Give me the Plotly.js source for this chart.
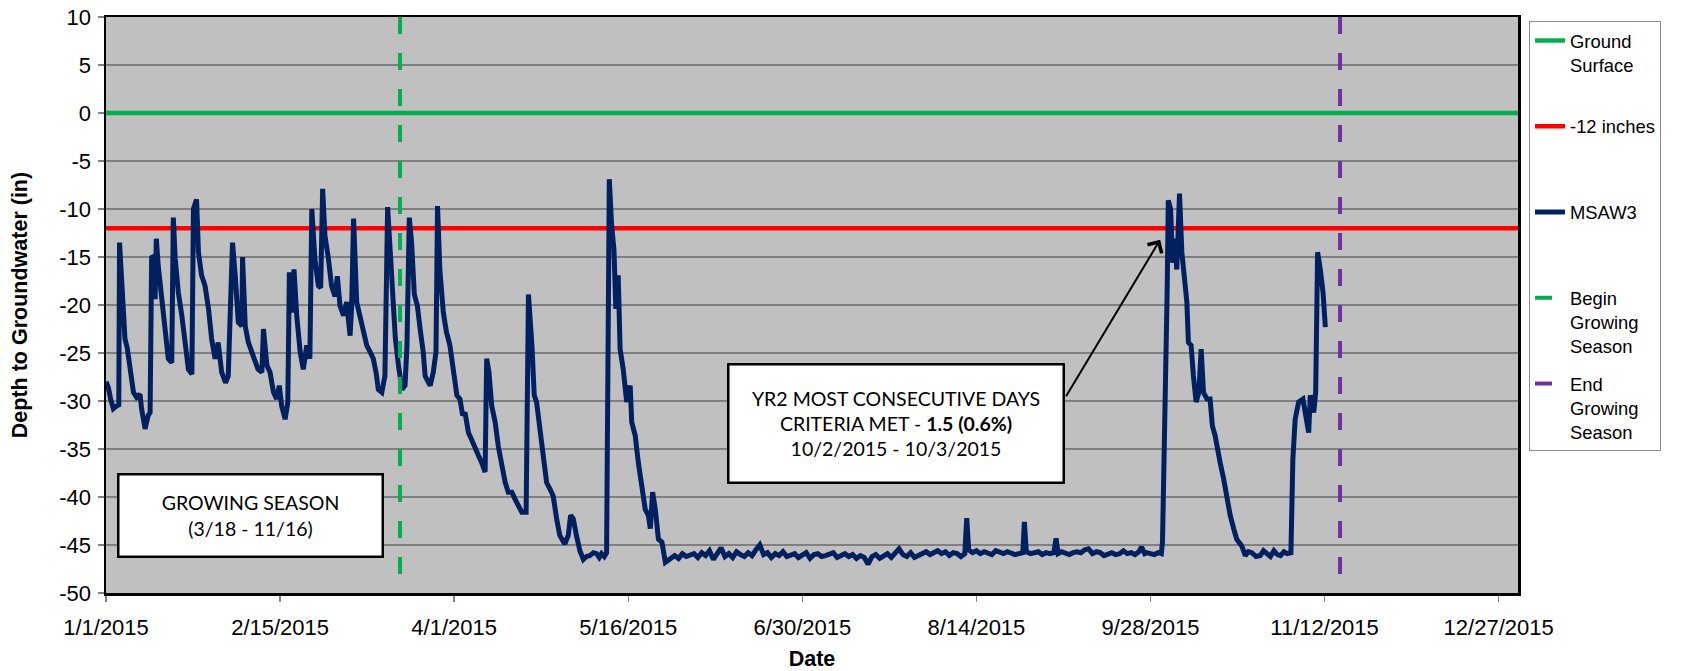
<!DOCTYPE html>
<html>
<head>
<meta charset="utf-8">
<script src="https://cdn.plot.ly/plotly-3.0.1.min.js"></script>
<style>
  html, body { margin: 0; padding: 0; background: #ffffff; }
  #chart { width: 1698px; height: 671px; }
</style>
</head>
<body>
<div id="chart"></div>
<script>
// ---------------- DATA ----------------
// Days elapsed since 1/1/2015 for the MSAW3 well record
const msawDays = [
  0, 0.6, 1.2, 1.9, 2.8, 3.3, 3.5, 4.0, 4.9, 5.5, 6.2, 7.1, 7.9, 8.8, 9.2, 10.1, 10.9, 11.4,
  11.8, 12.2, 12.7, 13.0, 13.5, 14.4, 15.3, 16.1, 17.0, 17.4, 17.9, 18.7, 19.6, 20.4, 21.3, 22.2,
  22.6, 23.4, 23.9, 24.7, 25.6, 26.5, 27.3, 28.2, 29.0, 29.9, 30.9, 31.6, 32.7, 33.4, 34.2, 35.1,
  35.3, 36.0, 36.8, 37.7, 38.5, 39.3, 40.3, 40.7, 41.6, 42.4, 43.3, 44.1, 44.8, 45.4, 46.3, 47.0,
  47.4, 48.0, 48.6, 49.3, 50.2, 51.0, 51.9, 52.7, 53.2, 54.0, 54.9, 55.5, 56.0, 56.6, 57.5, 58.3,
  59.2, 59.8, 60.5, 61.4, 62.2, 63.1, 63.5, 64.0, 64.8, 65.7, 66.5, 67.4, 68.3, 69.1, 69.8, 70.4,
  71.3, 72.1, 72.8, 73.5, 74.1, 74.8, 75.6, 76.5, 77.3, 77.8, 78.4, 79.0, 79.7, 80.5, 81.2, 82.0,
  82.5, 83.8, 84.6, 85.3, 85.7, 86.3, 87.2, 88.0, 88.9, 89.8, 90.7, 91.5, 92.2, 92.8, 93.7, 94.5,
  95.4, 96.3, 97.1, 98.0, 98.4, 99.0, 99.7, 100.6, 101.4, 102.3, 103.2, 104.0, 104.9, 105.7, 106.6,
  107.5, 108.6, 109.2, 110.1, 110.7, 111.3, 112.2, 113.1, 113.9, 114.8, 115.6, 116.5, 117.3, 118.6,
  119.5, 120.1, 120.8, 121.6, 122.5, 123.4, 124.2, 125.1, 126.0, 126.8, 127.5, 128.1, 128.8, 129.4,
  129.9, 130.1, 130.7, 131.3, 131.8, 132.4, 132.9, 133.7, 134.6, 135.5, 135.9, 136.8, 137.6, 138.5,
  139.4, 140.2, 140.7, 141.3, 142.0, 142.8, 143.7, 144.6, 145.9,
  147, 148, 149, 150, 151, 152, 153, 154, 155, 156, 157, 158, 159, 160, 161, 162, 163, 164, 165,
  166, 167, 168, 169, 170, 171, 172, 173, 174, 175, 176, 177, 178, 179, 180, 181, 182, 183, 184,
  185, 186, 187, 188, 189, 190, 191, 192, 193, 194, 195, 196, 197, 198, 199, 200, 201, 202, 203,
  204, 205, 206, 207, 208, 209, 210, 211, 212, 213, 214, 215, 216, 217, 218, 219, 220, 221, 222,
  222.5, 223.0, 224, 225, 226, 227, 228, 229, 230, 231, 232, 233, 234, 235, 236, 237, 237.4, 237.9,
  239, 240, 241, 242, 243, 244, 245, 245.6, 246.1, 247, 248, 249, 250, 251, 252, 253, 254, 255,
  256, 257, 258, 259, 260, 261, 262, 263, 264, 265, 266, 267, 267.7, 268.5, 269, 270, 271, 272,
  272.8, 273.1, 273.7, 274.3, 274.6, 275.2, 275.7, 276.2, 276.8, 277.5, 278.1, 278.9, 279.4, 279.8,
  280.5, 281.1, 281.8, 282.5, 283.1, 283.7, 284.6, 285.4, 286.0, 286.7, 287.2, 288.0, 288.9, 289.8,
  290.6, 291.5, 292.3, 293.6, 294.5, 295.3, 296.2, 297.3, 298.4, 299.2, 300.1, 301.0, 301.9, 302.8,
  303.6, 304.5, 305.3, 306.3, 306.8, 307.4, 308.3, 309.4, 310.3, 310.9, 311.3, 312.2, 312.7, 313.2,
  313.9, 314.6, 315.2
];
// Depth to groundwater (in)
const msawDepth = [
  -28.0, -28.6, -29.8, -30.8, -30.5, -30.4, -13.5, -17.6, -23.5, -24.5, -26.3, -29.1, -29.6, -29.3, -30.8, -32.9, -31.5, -31.2,
  -14.9, -15.0, -19.4, -13.1, -15.9, -19.4, -22.2, -25.6, -26.0, -10.9, -15.2, -18.7, -21.1, -24.2, -26.7, -27.2,
  -10.0, -9.0, -14.5, -16.9, -18.0, -20.4, -23.5, -25.6, -23.9, -27.0, -28.1, -27.4, -13.5, -16.9, -21.8, -22.2,
  -15.0, -22.2, -23.9, -24.9, -26.0, -26.7, -27.0, -22.5, -26.3, -27.0, -29.1, -29.8, -28.4, -30.5, -31.9, -30.1,
  -16.6, -20.8, -16.3, -21.1, -24.9, -26.7, -24.2, -25.6, -10.0, -15.2, -18.0, -18.2, -7.9, -12.8, -15.2, -18.0,
  -19.1, -17.0, -20.1, -21.1, -19.7, -23.2, -20.1, -11.0, -19.7, -21.1, -22.8, -24.2, -24.9, -25.6, -27.0, -28.8,
  -29.1, -27.4, -9.8, -15.2, -19.4, -23.5, -26.3, -28.8, -28.4, -24.2, -10.9, -13.5, -18.9, -20.1, -22.5, -24.9,
  -27.4, -28.4, -27.0, -24.9, -9.7, -16.3, -20.8, -22.8, -24.2, -26.7, -29.4, -29.8, -31.5, -31.2, -33.3, -34.0,
  -35.0, -35.7, -36.4, -37.4, -25.6, -27.0, -30.5, -32.2, -34.7, -36.7, -38.5, -39.5, -39.5, -40.2, -40.9,
  -41.6, -41.6, -18.9, -24.2, -29.4, -30.1, -33.3, -36.0, -38.5, -39.2, -39.9, -42.3, -44.0, -44.9,
  -44.0, -41.9, -42.3, -44.0, -45.6, -46.5, -46.2, -46.1, -45.8, -45.9, -46.3, -45.9, -46.2, -45.8,
  -25.6, -6.9, -11.7, -14.2, -20.4, -16.9, -24.6, -26.7, -30.1, -28.4, -32.2, -33.6, -36.4, -38.8,
  -41.3, -41.9, -43.3, -39.5, -41.3, -44.4, -44.7, -46.8, -46.5,
  -46.1, -46.4, -45.9, -46.2, -46.0, -45.9, -46.3, -45.8, -46.1, -45.6, -46.5, -45.9, -45.3, -46.2, -45.9, -46.3, -45.7, -46.0, -46.2,
  -45.8, -46.1, -45.5, -45.0, -46.0, -45.8, -46.3, -45.9, -46.1, -45.7, -46.2, -46.0, -45.9, -46.3, -46.1, -45.8, -46.4, -46.0, -45.9,
  -46.2, -46.1, -46.0, -45.8, -46.3, -46.1, -45.9, -46.2, -46.0, -46.4, -46.1, -46.3, -47.0, -46.2, -46.0, -46.4, -46.1, -45.9, -46.3,
  -45.8, -45.4, -46.0, -46.2, -45.8, -46.3, -46.1, -45.9, -45.7, -46.0, -45.8, -45.6, -45.9, -45.7, -46.1, -45.8, -45.9, -46.2, -45.9,
  -42.2, -45.5, -45.8, -45.6, -45.9, -45.7, -45.8, -46.0, -45.6, -45.8, -45.9, -45.7, -45.8, -46.0, -45.9, -45.8, -42.6, -45.7,
  -45.9, -45.8, -45.7, -46.0, -45.8, -45.9, -45.8, -44.3, -45.9, -45.7, -45.9, -46.0, -45.8, -45.7, -45.8, -45.5, -45.4, -45.9,
  -45.7, -45.8, -46.1, -45.9, -45.8, -46.0, -45.9, -45.6, -45.9, -45.8, -46.0, -45.7, -45.2, -45.9, -45.8, -45.9, -46.0, -45.8,
  -45.9, -44.7, -34.3, -18.7, -9.1, -10.0, -15.6, -13.1, -16.3, -8.4, -14.5, -18.0, -19.7, -23.9,
  -24.2, -27.4, -30.1, -29.1, -24.6, -29.1, -29.8, -29.8, -32.6, -33.6, -35.0, -36.4, -38.1, -40.2,
  -41.9, -43.3, -44.4, -45.1, -46.1, -45.7, -45.8, -46.2, -46.1, -45.6, -45.9, -46.2, -45.6, -46.0,
  -46.1, -45.7, -45.9, -45.8, -36.1, -31.9, -30.1, -29.8, -31.9, -33.3, -29.4, -31.2, -29.1, -14.5,
  -16.3, -18.7, -22.3
];

// Reference lines
const seriesNames = ['Ground<br>Surface', '-12 inches', 'MSAW3', 'Begin<br>Growing<br>Season', 'End<br>Growing<br>Season'];
const groundSurfaceDepth = [0, 0];
const criteriaDepth = [-12, -12];
const refLineDates = ['2015-01-01', '2016-01-01'];
const growingSeasonBegin = ['2015-03-18', '2015-03-18'];
const growingSeasonEnd = ['2015-11-16', '2015-11-16'];
const seasonDepthSpan = [10, -50];

// Y axis tick labels (plain hyphen minus, as in the original)
const yTickVals = [10, 5, 0, -5, -10, -15, -20, -25, -30, -35, -40, -45, -50];
const yTickText = ['10', '5', '0', '-5', '-10', '-15', '-20', '-25', '-30', '-35', '-40', '-45', '-50'];

// ---------------- BUILD ----------------
const dayMs = 86400000;
const origin = Date.UTC(2015, 0, 1);
const msawDates = msawDays.map(d => new Date(origin + d * dayMs).toISOString().replace('T', ' ').slice(0, 19));

const padLines = (name) => {
  const n = name.split('<br>').length;
  let s = name;
  for (let i = n; i < 3; i++) s += '<br>\u00a0';
  return s;
};

const traces = [
  { x: refLineDates, y: groundSurfaceDepth, name: padLines(seriesNames[0]), mode: 'lines',
    line: { color: '#00B050', width: 4.5 }, legendgroup: 'g1' },
  { x: refLineDates, y: criteriaDepth, name: padLines(seriesNames[1]), mode: 'lines',
    line: { color: '#FF0000', width: 4.5 }, legendgroup: 'g2' },
  { x: msawDates, y: msawDepth, name: padLines(seriesNames[2]), mode: 'lines',
    line: { color: '#002060', width: 5 }, legendgroup: 'g3' },
  { x: growingSeasonBegin, y: seasonDepthSpan, name: padLines(seriesNames[3]), mode: 'lines',
    line: { color: '#00B050', width: 4, dash: '17px,19px' }, legendgroup: 'g4' },
  { x: growingSeasonEnd, y: seasonDepthSpan, name: padLines(seriesNames[4]), mode: 'lines',
    line: { color: '#7030A0', width: 4, dash: '17px,19px' }, legendgroup: 'g5' }
];

const axisFont = { family: 'Liberation Sans, Arial, sans-serif', size: 22, color: '#000000' };
const titleFont = { family: 'Liberation Sans, Arial, sans-serif', size: 21.5, color: '#000000', weight: 'bold' };
const boxFont = { family: 'Lato, Carlito, Calibri, sans-serif', size: 19.5, color: '#000000' };

const layout = {
  width: 1698,
  height: 671,
  margin: { l: 106, r: 180, t: 17, b: 78, pad: 0 },
  paper_bgcolor: '#FFFFFF',
  plot_bgcolor: '#C0C0C0',
  font: axisFont,
  showlegend: true,
  xaxis: {
    type: 'date',
    range: [origin, Date.UTC(2016, 0, 1)],
    tickmode: 'linear',
    tick0: '2015-01-01',
    dtick: 45 * dayMs,
    tickformat: '%-m/%-d/%Y',
    ticks: 'outside',
    ticklen: 6,
    tickwidth: 1.5,
    tickcolor: '#808080',
    ticklabelstandoff: 7,
    showline: true,
    linecolor: '#000000',
    linewidth: 2.5,
    mirror: true,
    showgrid: false,
    zeroline: false,
    tickfont: axisFont,
    title: { text: 'Date', font: titleFont, standoff: 12 }
  },
  yaxis: {
    range: [-50, 10],
    tickmode: 'array',
    tickvals: yTickVals,
    ticktext: yTickText,
    ticks: 'outside',
    ticklen: 6,
    tickwidth: 1.5,
    tickcolor: '#808080',
    ticklabelstandoff: 2,
    showline: true,
    linecolor: '#000000',
    linewidth: 2.5,
    mirror: true,
    showgrid: true,
    gridcolor: '#808080',
    gridwidth: 1.5,
    zeroline: false,
    tickfont: axisFont,
    title: { text: 'Depth to Groundwater (in)', font: titleFont, standoff: 26 }
  },
  legend: {
    x: 1.0078,
    xanchor: 'left',
    y: 0.993,
    yanchor: 'top',
    bgcolor: '#FFFFFF',
    bordercolor: '#8C8C8C',
    borderwidth: 1,
    font: { family: 'Liberation Sans, Arial, sans-serif', size: 18.4, color: '#000000' },
    traceorder: 'grouped',
    tracegroupgap: 11,
    valign: 'top'
  },
  annotations: [
    {
      xref: 'paper', yref: 'paper', x: 0.1023, y: 0.1345, xanchor: 'center', yanchor: 'middle',
      text: 'GROWING SEASON<br>(3/18 - 11/16)', showarrow: false,
      bgcolor: '#FFFFFF', bordercolor: '#000000', borderwidth: 2.5, borderpad: 0,
      width: 262, height: 80, font: boxFont, align: 'center'
    },
    {
      xref: 'paper', yref: 'paper', x: 0.5595, y: 0.2943, xanchor: 'center', yanchor: 'middle',
      text: 'YR2 MOST CONSECUTIVE DAYS<br>CRITERIA MET - <b>1.5 (0.6%)</b><br>10/2/2015 - 10/3/2015', showarrow: false,
      bgcolor: '#FFFFFF', bordercolor: '#000000', borderwidth: 2.5, borderpad: 0,
      width: 333, height: 116, font: boxFont, align: 'center'
    },
    {
      xref: 'x', yref: 'y', x: '2015-09-30 12:00', y: -13.2, text: '', showarrow: true,
      arrowhead: 4, arrowsize: 1.6, arrowwidth: 2, arrowcolor: '#000000',
      ax: -95, ay: 158, standoff: 0, startstandoff: 0
    }
  ]
};

Plotly.newPlot('chart', traces, layout, { staticPlot: true, displayModeBar: false });
</script>
</body>
</html>
